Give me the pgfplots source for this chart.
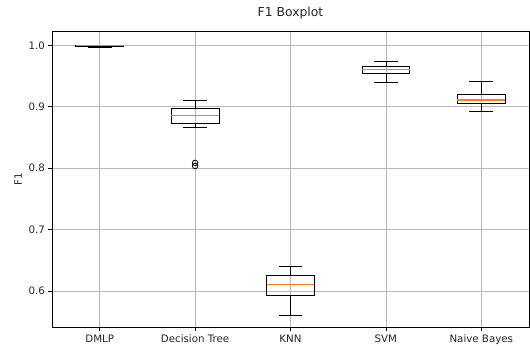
\documentclass[border=0pt]{standalone}
\usepackage{fontspec}
\setmainfont{DejaVu Sans}
\usepackage{pgfplots}
\pgfplotsset{compat=1.18}
\usepgfplotslibrary{statistics}
\definecolor{mplorange}{HTML}{FF7F0E}
\definecolor{mplgrid}{HTML}{B8B8B8}
\definecolor{mpltext}{HTML}{262626}
\begin{document}
\begin{tikzpicture}
\path[use as bounding box] (-52bp,-18.3bp) rectangle (478bp,327.7bp);
\begin{axis}[
  at={(0bp,0bp)}, anchor=south west,
  scale only axis, width=477bp, height=296.4bp,
  xmin=0.5, xmax=5.5, ymin=0.5402, ymax=1.0228,
  xtick={1,2,3,4,5},
  xticklabels={DMLP, Decision Tree, KNN, SVM, Naive Bayes},
  ytick={0.6,0.7,0.8,0.9,1.0},
  yticklabel style={/pgf/number format/.cd, fixed, fixed zerofill, precision=1},
  /pgf/number format/assume math mode=true,
  tick label style={font=\fontsize{10.3}{12}\selectfont, text=mpltext},
  tick align=outside, major tick length=3.5bp,
  tick style={black, line width=0.7pt},
  xtick pos=bottom, ytick pos=left,
  grid=major,
  major grid style={mplgrid, line width=0.7pt},
  axis line style={black, line width=0.8pt},
  title={F1 Boxplot},
  title style={at={(0.5,1)}, anchor=south, yshift=3bp,
    font=\fontsize{12.4}{14}\selectfont, text=mpltext},
  ylabel={F1},
  ylabel style={font=\fontsize{10.3}{12}\selectfont, text=mpltext},
  boxplot/draw direction=y,
  boxplot/box extend=0.5,
  boxplot/whisker extend=0.25,
  boxplot/every box/.style={draw=black, line width=0.8pt},
  boxplot/every whisker/.style={draw=black, line width=0.8pt},
  boxplot/every median/.style={draw=mplorange, line width=1.1pt},
]
% DMLP
\addplot[black, mark=o, mark size=2.8bp, boxplot prepared={
  draw position=1, lower whisker=0.9965, lower quartile=0.9985,
  median=0.9998, upper quartile=0.9998, upper whisker=0.9998}]
  coordinates {};
% DMLP median, drawn over its very narrow box
\addplot[mplorange, line width=1.1pt, mark=none]
  coordinates {(0.75,0.9998) (1.25,0.9998)};
% Decision Tree, with two low outliers
\addplot[black, mark=o, mark size=2.8bp, line width=0.8pt, boxplot prepared={
  draw position=2, lower whisker=0.867, lower quartile=0.873,
  median=0.885, upper quartile=0.897, upper whisker=0.911}]
  coordinates {(2,0.8085) (2,0.8035)};
% KNN
\addplot[black, mark=o, mark size=2.8bp, boxplot prepared={
  draw position=3, lower whisker=0.561, lower quartile=0.593,
  median=0.6105, upper quartile=0.6257, upper whisker=0.640}]
  coordinates {};
% SVM
\addplot[black, mark=o, mark size=2.8bp, boxplot prepared={
  draw position=4, lower whisker=0.9395, lower quartile=0.954,
  median=0.961, upper quartile=0.966, upper whisker=0.974}]
  coordinates {};
% Naive Bayes
\addplot[black, mark=o, mark size=2.8bp, boxplot prepared={
  draw position=5, lower whisker=0.893, lower quartile=0.9046,
  median=0.911, upper quartile=0.920, upper whisker=0.941}]
  coordinates {};
\end{axis}
\end{tikzpicture}
\end{document}
